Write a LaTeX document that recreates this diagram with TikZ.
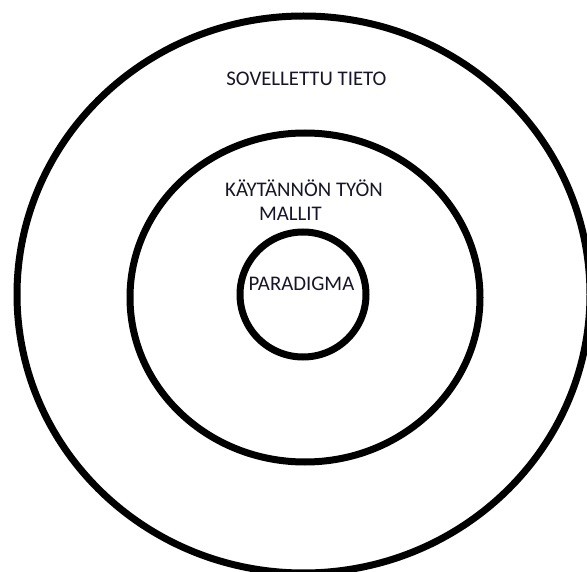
\documentclass[tikz,border=0pt]{standalone}
\usepackage{fontspec}
\setmainfont{Carlito}
\definecolor{ink}{RGB}{22,22,40}
\begin{document}
\begin{tikzpicture}[x=1pt,y=-1pt,
  ring/.style={draw=black, line width=7pt},
  lbl/.style={font=\fontsize{20.8}{24}\selectfont, text=ink, inner sep=0pt}]
\useasboundingbox (0,0) rectangle (587,572);
\begin{scope}
\clip (0,0) rectangle (587,572);
\draw[ring] (303.5,294.5) ellipse [x radius=286.5, y radius=278.5];
\draw[ring] (305,297.5) ellipse [x radius=175, y radius=164.5];
\draw[ring] (303,294.5) ellipse [x radius=63, y radius=62.5];
\end{scope}
\node[lbl, anchor=base] (tieto) at (306.5,85.5) {SOVELLETTU TIETO};
\node[lbl, anchor=south, align=center] (mallit) at (304,220.5) {KÄYTÄNNÖN TYÖN\\MALLIT\hspace*{27pt}};
\node[lbl, anchor=base] (paradigma) at (301.5,291) {PARADIGMA};
\end{tikzpicture}
\end{document}
